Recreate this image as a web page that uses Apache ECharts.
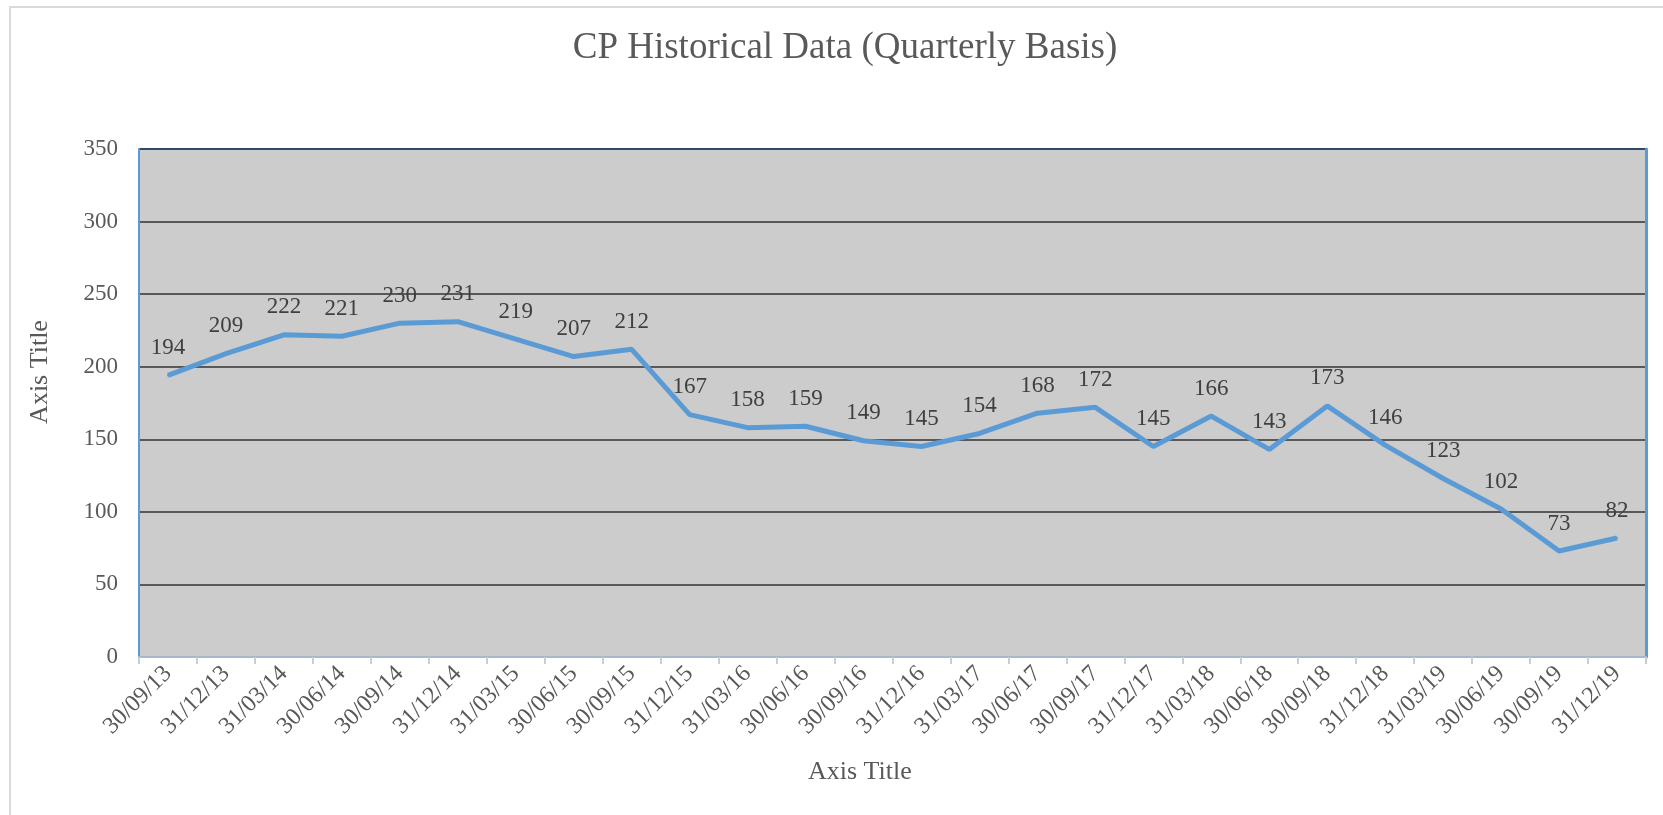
<!DOCTYPE html>
<html>
<head>
<meta charset="utf-8">
<title>CP Historical Data</title>
<script src="https://cdn.jsdelivr.net/npm/echarts@6/dist/echarts.min.js"></script>
<style>
html,body{margin:0;padding:0;background:#fff;}
#EchartBox{width:1663px;height:815px;}
</style>
</head>
<body>
<div id="EchartBox"></div>
<script>
// quarter ends
var quarters = ['30/09/13','31/12/13','31/03/14','30/06/14','30/09/14','31/12/14','31/03/15','30/06/15','30/09/15',
	'31/12/15','31/03/16','30/06/16','30/09/16','31/12/16','31/03/17','30/06/17','30/09/17','31/12/17',
	'31/03/18','30/06/18','30/09/18','31/12/18','31/03/19','30/06/19','30/09/19','31/12/19'];
var cpValues = [194,209,222,221,230,231,219,207,212,167,158,159,149,145,154,168,172,145,166,143,173,146,123,102,73,82];
var yTicks = {min:0, max:350, interval:50};

var serifFont = "'Liberation Serif','Times New Roman',serif";

var myChart = echarts.init(document.getElementById('EchartBox'));

var option = {
	backgroundColor:'#fff',
	animation:false,
	title:{
		text:'CP Historical Data (Quarterly Basis)',
		left:840,
		top:25,
		textAlign:'center',
		textStyle:{fontFamily:serifFont,fontSize:37,fontWeight:'normal',color:'#595959'}
	},
	grid:{
		left:139,
		top:149,
		right:17,
		bottom:158,
		show:true,
		backgroundColor:'#cccccc',
		borderWidth:0
	},
	xAxis:{
		type:'category',
		data:quarters,
		boundaryGap:true,
		axisLine:{show:true,lineStyle:{color:'#a9b8c9',width:2}},
		axisTick:{show:true,length:7,lineStyle:{color:'#c8ced6',width:2}},
		axisLabel:{
			rotate:45,
			margin:13,
			interval:0,
			fontFamily:serifFont,
			fontSize:24,
			color:'#595959'
		}
	},
	yAxis:[{
		type:'value',
		min:yTicks.min,
		max:yTicks.max,
		interval:yTicks.interval,
		axisLine:{show:true,lineStyle:{color:'#5b9bd5',width:2}},
		axisTick:{show:false},
		axisLabel:{margin:21,fontFamily:serifFont,fontSize:23,color:'#595959'},
		splitLine:{
			show:true,
			lineStyle:{
				color:['#595959','#595959','#595959','#595959','#595959','#595959','#595959','#2e4a6a'],
				width:2
			}
		}
	},{
		type:'value',
		position:'right',
		min:yTicks.min,
		max:yTicks.max,
		interval:yTicks.interval,
		axisLine:{show:true,lineStyle:{color:'#5b9bd5',width:3}},
		axisTick:{show:false},
		axisLabel:{show:false},
		splitLine:{show:false}
	}],
	series:[{
		name:'CP',
		type:'line',
		data:cpValues,
		showSymbol:true,
		symbol:'circle',
		symbolSize:2,
		lineStyle:{color:'#5b9bd5',width:5},
		itemStyle:{color:'#5b9bd5'},
		label:{
			show:true,
			position:'top',
			distance:15,
			fontFamily:serifFont,
			fontSize:23,
			color:'#404040'
		},
		z:5
	}],
	graphic:[
		{
			type:'rect',
			x:10,
			y:7,
			shape:{x:0,y:0,width:1700,height:900},
			style:{fill:'none',stroke:'#d9d9d9',lineWidth:2},
			silent:true
		},
		{
			type:'text',
			x:808,
			y:759,
			style:{text:'Axis Title',font:'26px '+serifFont,fill:'#595959'}
		},
		{
			type:'text',
			x:40,
			y:372,
			rotation:Math.PI/2,
			style:{text:'Axis Title',font:'26px '+serifFont,fill:'#595959',align:'center',verticalAlign:'middle'}
		}
	]
};

myChart.setOption(option);
</script>
</body>
</html>
